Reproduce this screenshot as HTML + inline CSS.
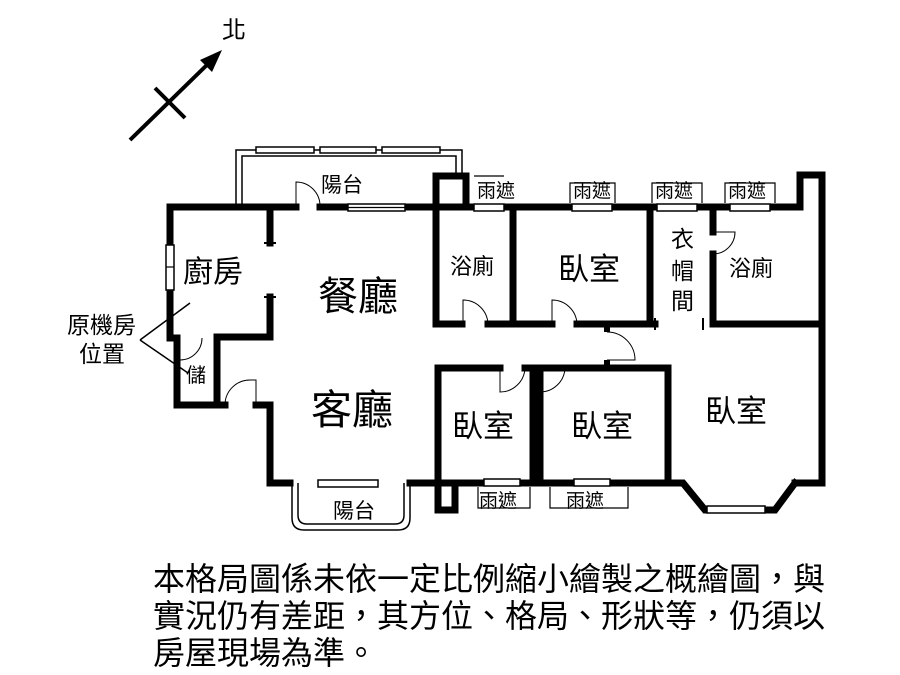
<!DOCTYPE html>
<html><head><meta charset="utf-8"><style>
html,body{margin:0;padding:0;background:#fff;}
svg{display:block}
text{font-family:"Liberation Sans","Noto Sans CJK TC",sans-serif;fill:#000}
</style></head><body>
<svg width="900" height="675" viewBox="0 0 900 675" xmlns="http://www.w3.org/2000/svg">
<g stroke="#000" fill="none">
<line x1="130" y1="140" x2="212" y2="60" stroke-width="4"/>
<polygon points="222,50 200,60 212,72" fill="#000" stroke="none"/>
<line x1="155" y1="88" x2="185" y2="118" stroke-width="4"/>

<path d="M236,207 V150 H462 V178" stroke-width="1.5"/>
<path d="M242,207 V156 H456 V178" stroke-width="1.5"/>
<rect x="256" y="147" width="58" height="6" stroke-width="1.5" fill="#fff"/>
<rect x="320" y="147" width="56" height="6" stroke-width="1.5" fill="#fff"/>
<rect x="382" y="147" width="58" height="6" stroke-width="1.5" fill="#fff"/>

<path d="M292,483 V518 Q292,530 304,530 H398 Q410,530 410,518 V483" stroke-width="1.5"/>
<path d="M298,483 V515 Q298,524 307,524 H395 Q404,524 404,515 V483" stroke-width="1.5"/>

<g stroke-width="7" stroke-linecap="square">
<path d="M170,207 H296"/>
<path d="M320,207 H348"/>
<path d="M405,207 H800 V175 H822 V483 H795"/>
<path d="M170,207 V338 H177 V405 H225"/>
<path d="M256,405 H270 V483 H290"/>
<path d="M410,483 H435"/>
<path d="M217,405 V337 H270 V297"/>
<path d="M270,207 V243"/>
<rect x="436" y="176" width="30" height="31"/>
<path d="M436,207 V324 H462"/>
<path d="M488,324 H552"/>
<path d="M577,324 H655"/>
<path d="M513,207 V324"/>
<path d="M650,207 V324"/>
<path d="M713,207 V232"/>
<path d="M713,254 V324 H822"/>
<path d="M438,510 V368 H500"/>
<path d="M525,368 H533 V483"/>
<path d="M540,368 H565"/>
<path d="M540,368 V483"/>
<path d="M565,368 H668 V483"/>
<path d="M438,483 H668 H683 L705,510 H775 L795,483"/>
<path d="M438,510 H455 V483"/>
</g>
<line x1="607" y1="324" x2="607" y2="332" stroke-width="6"/>
<line x1="607" y1="360" x2="607" y2="368" stroke-width="6"/>
<line x1="264" y1="243" x2="276" y2="243" stroke-width="2"/>
<line x1="264" y1="297" x2="276" y2="297" stroke-width="2"/>
<line x1="655" y1="318" x2="655" y2="330" stroke-width="2"/>
<line x1="703" y1="318" x2="703" y2="330" stroke-width="2"/>

<g stroke-width="1.5" fill="#fff">
<rect x="348" y="204" width="57" height="7"/>
<rect x="166" y="245" width="8" height="45"/>
<rect x="474" y="204" width="30" height="7"/>
<rect x="572" y="204" width="40" height="7"/>
<rect x="657" y="204" width="40" height="7"/>
<rect x="730" y="204" width="40" height="7"/>
<rect x="318" y="480" width="60" height="7"/>
<rect x="484" y="479" width="36" height="7"/>
<rect x="574" y="479" width="36" height="7"/>
<rect x="707" y="506" width="58" height="7"/>
</g>
<g stroke-width="1.2">
<line x1="348" y1="207.5" x2="405" y2="207.5"/>
<line x1="166" y1="267" x2="174" y2="267"/>
<path d="M474,176 H504"/>
<path d="M570,203 V183 H615 V203"/>
<path d="M652,203 V183 H702 V203"/>
<path d="M725,203 V183 H775 V203"/>
<path d="M478,487 V508 H530 V487"/>
<path d="M550,487 V508 H628 V487"/>
</g>

<g stroke-width="1">
<path d="M296,207 V182 A24,24 0 0 1 320,206"/>
<path d="M463,324 V300 A25,25 0 0 1 488,324"/>
<path d="M552,324 V300 A25,25 0 0 1 577,324"/>
<path d="M713,232 H735 A22,22 0 0 1 713,254"/>
<path d="M607,332 A28,28 0 0 1 635,360 H607"/>
<path d="M500,368 V392 A25,25 0 0 0 525,368"/>
<path d="M565,368 A25,25 0 0 1 540,392 V368"/>
<path d="M180,340 V360 A22,22 0 0 0 202,338"/>
<path d="M225,405 A25,25 0 0 1 250,380 H256 V405"/>
</g>
<g stroke-width="1.5">
<line x1="140" y1="340" x2="190" y2="303"/>
<line x1="140" y1="340" x2="188" y2="373"/>
</g>
</g>

<g>
<text x="222" y="38" font-size="24">北</text>
<text x="321" y="192" font-size="21">陽台</text>
<text x="333" y="518" font-size="21">陽台</text>
<text x="183" y="282" font-size="30">廚房</text>
<text x="318" y="310" font-size="40">餐廳</text>
<text x="311" y="424" font-size="41">客廳</text>
<text x="186" y="382" font-size="20">儲</text>
<text x="67" y="333" font-size="23">原機房</text>
<text x="79" y="362" font-size="23">位置</text>
<text x="450" y="274" font-size="22">浴廁</text>
<text x="558" y="280" font-size="31">臥室</text>
<text x="671" y="247" font-size="23">衣</text>
<text x="671" y="279" font-size="23">帽</text>
<text x="671" y="309" font-size="23">間</text>
<text x="729" y="276" font-size="22">浴廁</text>
<text x="452" y="437" font-size="31">臥室</text>
<text x="571" y="437" font-size="31">臥室</text>
<text x="705" y="422" font-size="31">臥室</text>
<text x="477" y="197" font-size="19">雨遮</text>
<text x="573" y="197" font-size="19">雨遮</text>
<text x="655" y="197" font-size="19">雨遮</text>
<text x="728" y="197" font-size="19">雨遮</text>
<text x="479" y="507" font-size="19">雨遮</text>
<text x="566" y="507" font-size="19">雨遮</text>
<text x="153" y="590" font-size="32">本格局圖係未依一定比例縮小繪製之概繪圖，與</text>
<text x="153" y="627" font-size="32">實況仍有差距，其方位、格局、形狀等，仍須以</text>
<text x="153" y="664" font-size="32">房屋現場為準。</text>
</g>
</svg>
</body></html>
